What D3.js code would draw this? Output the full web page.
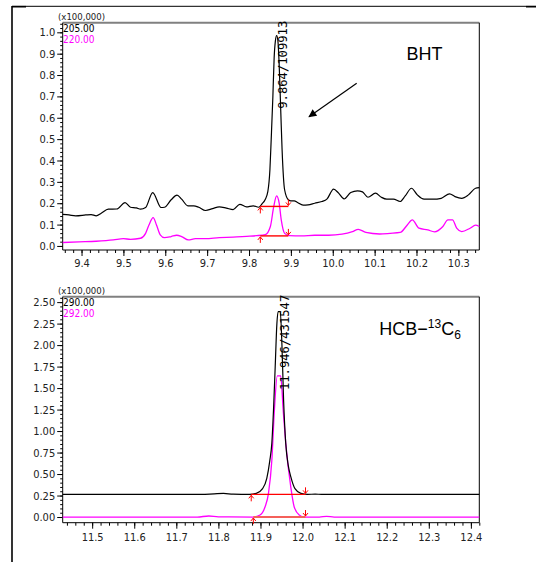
<!DOCTYPE html>
<html>
<head>
<meta charset="utf-8">
<script src="https://cdn.jsdelivr.net/npm/d3@7"></script>
<style>
  body { margin: 0; background: #fff; }
  .tick text { font-family: "Liberation Sans Narrow", "DejaVu Sans Condensed", sans-serif; font-size: 11px; fill: #222; }
  .mono { font-family: "DejaVu Sans Mono", "Liberation Mono", monospace; }
  .narrow { font-family: "Liberation Sans Narrow", "DejaVu Sans Condensed", sans-serif; }
</style>
</head>
<body>
<div class="chart-container"></div>
<script>
var w = 536;
var h = 562;

// BHT window, m/z 205 (black) and 220 (magenta)
var bhtIons = ["205.00", "220.00"];
var bhtXTicks = [9.4, 9.5, 9.6, 9.7, 9.8, 9.9, 10.0, 10.1, 10.2, 10.3];
var bhtYTicks = [0.0, 0.1, 0.2, 0.3, 0.4, 0.5, 0.6, 0.7, 0.8, 0.9, 1.0];
var bht205 = [
  [9.355, 0.148], [9.370, 0.145], [9.386, 0.141], [9.410, 0.145], [9.423, 0.147], [9.435, 0.141],
  [9.447, 0.153], [9.464, 0.172], [9.484, 0.173], [9.504, 0.203], [9.517, 0.181], [9.531, 0.178],
  [9.541, 0.172], [9.553, 0.180], [9.570, 0.250], [9.590, 0.180], [9.598, 0.181], [9.614, 0.216],
  [9.628, 0.238], [9.639, 0.219], [9.654, 0.188], [9.668, 0.188], [9.680, 0.181], [9.696, 0.166],
  [9.713, 0.175], [9.729, 0.183], [9.746, 0.177], [9.762, 0.170], [9.778, 0.195], [9.794, 0.183],
  [9.810, 0.188], [9.823, 0.181], [9.831, 0.197], [9.839, 0.219], [9.845, 0.255], [9.850, 0.360],
  [9.853, 0.500], [9.857, 0.700], [9.860, 0.880], [9.863, 0.960], [9.866, 0.985], [9.869, 0.960],
  [9.872, 0.850], [9.876, 0.620], [9.879, 0.450], [9.885, 0.263], [9.894, 0.216], [9.900, 0.211],
  [9.908, 0.211], [9.916, 0.203], [9.929, 0.191], [9.941, 0.192], [9.957, 0.200], [9.974, 0.208],
  [9.986, 0.219], [10.002, 0.266], [10.014, 0.247], [10.027, 0.220], [10.043, 0.250], [10.059, 0.258],
  [10.071, 0.253], [10.084, 0.228], [10.102, 0.247], [10.116, 0.228], [10.129, 0.219], [10.145, 0.219],
  [10.161, 0.208], [10.173, 0.234], [10.188, 0.270], [10.202, 0.239], [10.218, 0.219], [10.239, 0.219],
  [10.259, 0.223], [10.279, 0.244], [10.292, 0.231], [10.308, 0.223], [10.324, 0.239], [10.341, 0.270],
  [10.350, 0.273]
];
var bht220 = [
  [9.355, 0.016], [9.394, 0.019], [9.435, 0.022], [9.476, 0.028], [9.500, 0.034], [9.517, 0.031],
  [9.541, 0.036], [9.553, 0.059], [9.561, 0.098], [9.571, 0.133], [9.579, 0.098], [9.588, 0.052],
  [9.598, 0.039], [9.614, 0.044], [9.627, 0.050], [9.639, 0.044], [9.655, 0.028], [9.672, 0.034],
  [9.696, 0.034], [9.729, 0.039], [9.762, 0.041], [9.794, 0.045], [9.818, 0.048], [9.839, 0.053],
  [9.851, 0.091], [9.859, 0.184], [9.866, 0.234], [9.872, 0.200], [9.877, 0.122], [9.885, 0.059],
  [9.896, 0.048], [9.925, 0.047], [9.957, 0.050], [9.990, 0.050], [10.022, 0.055], [10.047, 0.067],
  [10.061, 0.078], [10.079, 0.063], [10.112, 0.056], [10.137, 0.059], [10.161, 0.063], [10.178, 0.098],
  [10.190, 0.122], [10.206, 0.083], [10.227, 0.075], [10.243, 0.066], [10.263, 0.091], [10.275, 0.122],
  [10.286, 0.122], [10.296, 0.083], [10.308, 0.067], [10.328, 0.083], [10.341, 0.097], [10.350, 0.091]
];
// integration baselines: start, end, level
var bhtMarks = [[9.827, 9.894, 0.185], [9.827, 9.894, 0.047]];
var bhtPeak = { t: 9.866, label: "9.864/109913" };

// HCB-13C6 window, m/z 290 (black) and 292 (magenta)
var hcbIons = ["290.00", "292.00"];
var hcbXTicks = [11.5, 11.6, 11.7, 11.8, 11.9, 12.0, 12.1, 12.2, 12.3, 12.4];
var hcbYTicks = [0.0, 0.25, 0.5, 0.75, 1.0, 1.25, 1.5, 1.75, 2.0, 2.25, 2.5];
var hcb290 = [
  [11.430, 0.264], [11.760, 0.264], [11.790, 0.270], [11.812, 0.274], [11.835, 0.266], [11.874, 0.264],
  [11.890, 0.275], [11.905, 0.330], [11.915, 0.450], [11.922, 0.650], [11.927, 0.860], [11.931, 1.250],
  [11.935, 1.750], [11.939, 2.250], [11.942, 2.390], [11.947, 2.390], [11.951, 2.000], [11.955, 1.350],
  [11.960, 0.860], [11.966, 0.600], [11.972, 0.470], [11.982, 0.330], [11.996, 0.275], [12.012, 0.264],
  [12.030, 0.266], [12.045, 0.264], [12.420, 0.264]
];
var hcb292 = [
  [11.430, 0.000], [11.750, 0.000], [11.777, 0.012], [11.800, 0.002], [11.883, 0.000], [11.899, 0.023],
  [11.911, 0.120], [11.919, 0.275], [11.927, 0.660], [11.933, 1.240], [11.940, 1.643], [11.948, 1.643],
  [11.954, 1.240], [11.960, 0.860], [11.972, 0.350], [11.980, 0.120], [11.992, 0.023], [12.004, 0.000],
  [12.040, 0.000], [12.057, 0.008], [12.075, 0.000], [12.420, 0.000]
];
var hcbMarks = [[11.878, 12.007, 0.264], [11.883, 12.007, 0.000]];
var hcbPeak = { t: 11.944, label: "11.946/431547" };

var svg = d3.select(".chart-container")
            .append("svg")
            .attr("width", w)
            .attr("height", h);

// page frame
svg.append("line").attr("x1", 12).attr("y1", 6).attr("x2", 12).attr("y2", h)
   .attr("stroke", "#000").attr("stroke-width", 1.6);
svg.append("line").attr("x1", 12).attr("y1", 6.3).attr("x2", w).attr("y2", 6.3)
   .attr("stroke", "#000").attr("stroke-width", 1);
svg.append("line").attr("x1", 12).attr("y1", 6.7).attr("x2", 26).attr("y2", 6.7)
   .attr("stroke", "#000").attr("stroke-width", 1.6);
svg.append("line").attr("x1", 526).attr("y1", 6.7).attr("x2", w).attr("y2", 6.7)
   .attr("stroke", "#000").attr("stroke-width", 1.6);

function drawChart(c) {
  var x = d3.scaleLinear().domain(c.xDomain).range([62.7, 479.3]);
  var y = d3.scaleLinear().domain(c.yDomain).range([c.bottom, c.top]);
  var g = svg.append("g");

  //minor + major x ticks
  var xMinor = d3.range(0, 60).map(function(i) { return c.xMinorStart + i * 0.02; })
                 .filter(function(d) { return d <= c.xDomain[1]; });
  g.append("g").attr("transform", "translate(0," + c.bottom + ")")
   .call(d3.axisBottom(x).tickValues(xMinor).tickSize(3).tickFormat(""))
   .call(function(a) { a.select(".domain").remove(); });
  g.append("g").attr("transform", "translate(0," + c.bottom + ")")
   .call(d3.axisBottom(x).tickValues(c.xTicks).tickSize(6).tickPadding(c.xPad).tickFormat(d3.format(".1f")))
   .call(function(a) { a.select(".domain").remove(); });

  //minor + major y ticks
  var yMinor = d3.range(0, 80).map(function(i) { return i * c.yMinorStep; })
                 .filter(function(d) { return d <= c.yDomain[1]; });
  g.append("g").attr("transform", "translate(62.7,0)")
   .call(d3.axisLeft(y).tickValues(yMinor).tickSize(2.5).tickFormat(""))
   .call(function(a) { a.select(".domain").remove(); });
  g.append("g").attr("transform", "translate(62.7,0)")
   .call(d3.axisLeft(y).tickValues(c.yTicks).tickSize(5.5).tickPadding(2).tickFormat(d3.format(c.yFmt)))
   .call(function(a) { a.select(".domain").remove(); });

  // frame
  g.append("line").attr("x1", 62.7).attr("x2", 479.3).attr("y1", c.top).attr("y2", c.top)
   .attr("stroke", "#808080").attr("stroke-width", 2);
  g.append("line").attr("x1", 479.3).attr("x2", 479.3).attr("y1", c.top).attr("y2", c.bottom)
   .attr("stroke", "#000");
  g.append("line").attr("x1", 62.7).attr("x2", 62.7).attr("y1", c.top).attr("y2", c.bottom)
   .attr("stroke", "#000");
  g.append("line").attr("x1", 62.7).attr("x2", 479.3).attr("y1", c.bottom).attr("y2", c.bottom)
   .attr("stroke", "#000");

  var line = d3.line()
               .x(function(d) { return x(d[0]); })
               .y(function(d) { return y(d[1]); })
               .curve(d3.curveMonotoneX);

  g.append("path").datum(c.magenta).attr("d", line)
   .attr("fill", "none").attr("stroke", "#ff00ff").attr("stroke-width", 1.3);
  g.append("path").datum(c.black).attr("d", line)
   .attr("fill", "none").attr("stroke", "#000").attr("stroke-width", 1.2);

  // integration marks
  c.marks.forEach(function(m, i) {
    var x0 = x(m[0]), x1 = x(m[1]), yy = y(m[2]);
    var col = (c.salmon && i == 1) ? "#f4605a" : "#ff0000";
    g.append("line").attr("x1", x0).attr("x2", x1).attr("y1", yy).attr("y2", yy)
     .attr("stroke", col).attr("stroke-width", (c.salmon && i == 1) ? 2 : 1.4);
    // up arrow at start, down arrow at end
    g.append("path")
     .attr("d", "M" + x0 + "," + (yy + 7) + "V" + (yy + 1) + "M" + (x0 - 2.5) + "," + (yy + 4) + "L" + x0 + "," + (yy + 1) + "L" + (x0 + 2.5) + "," + (yy + 4))
     .attr("fill", "none").attr("stroke", "#ff0000").attr("stroke-width", 1);
    g.append("path")
     .attr("d", "M" + x1 + "," + (yy - 7) + "V" + (yy - 1) + "M" + (x1 - 2.5) + "," + (yy - 4) + "L" + x1 + "," + (yy - 1) + "L" + (x1 + 2.5) + "," + (yy - 4))
     .attr("fill", "none").attr("stroke", "#ff0000").attr("stroke-width", 1);
  });

  // peak label, rotated
  g.append("text").attr("class", "mono")
   .attr("transform", "translate(" + (x(c.peak.t) + 6) + "," + (c.top - 2) + ") rotate(-90)")
   .attr("text-anchor", "end").attr("dominant-baseline", "central")
   .attr("font-size", "12.2px").attr("fill", "#000")
   .text(c.peak.label);

  // scale factor + ion labels
  g.append("text").attr("class", "narrow").attr("x", 58).attr("y", c.top - 3)
   .attr("font-size", "9.5px").attr("fill", "#222").text("(x100,000)");
  g.append("text").attr("class", "narrow").attr("x", 63).attr("y", c.top + 9)
   .attr("font-size", "10px").attr("fill", "#000").text(c.ions[0]);
  g.append("text").attr("class", "narrow").attr("x", 63).attr("y", c.top + 20.5)
   .attr("font-size", "10px").attr("fill", "#ff00ff").text(c.ions[1]);
  return g;
}

var g1 = drawChart({
  xDomain: [9.355, 10.35], yDomain: [-0.019, 1.045], top: 22.7, bottom: 250,
  xTicks: bhtXTicks, xMinorStart: 9.36, xPad: 3, yTicks: bhtYTicks, yMinorStep: 0.02, yFmt: ".1f",
  black: bht205, magenta: bht220, marks: bhtMarks, peak: bhtPeak, ions: bhtIons
});
var g2 = drawChart({
  xDomain: [11.43, 12.42], yDomain: [-0.066, 2.563], top: 296.7, bottom: 522.7,
  xTicks: hcbXTicks, xMinorStart: 11.44, xPad: 5, yTicks: hcbYTicks, yMinorStep: 0.05, yFmt: ".2f",
  black: hcb290, magenta: hcb292, marks: hcbMarks, peak: hcbPeak, ions: hcbIons, salmon: true
});

// compound names
g1.append("text").attr("x", 406.5).attr("y", 60).attr("font-family", "Liberation Sans, Arial, sans-serif")
  .attr("font-size", "18px").attr("fill", "#000").text("BHT");
var hcb = g2.append("text").attr("x", 379.3).attr("y", 335).attr("font-family", "Liberation Sans, Arial, sans-serif")
  .attr("font-size", "18px").attr("fill", "#000");
hcb.append("tspan").text("HCB\u2212");
hcb.append("tspan").attr("font-size", "12px").attr("dy", -7).text("13");
hcb.append("tspan").attr("dy", 7).text("C");
hcb.append("tspan").attr("font-size", "12px").attr("dy", 4).text("6");

// arrow pointing at the peak
svg.append("defs").append("marker").attr("id", "head")
   .attr("viewBox", "0 0 10 10").attr("refX", 9).attr("refY", 5)
   .attr("markerWidth", 10).attr("markerHeight", 8).attr("markerUnits", "userSpaceOnUse")
   .attr("orient", "auto")
   .append("path").attr("d", "M0,0L10,5L0,10Z").attr("fill", "#000");
svg.append("line").attr("x1", 356.7).attr("y1", 83.3).attr("x2", 309).attr("y2", 116.7)
   .attr("stroke", "#000").attr("stroke-width", 1.2).attr("marker-end", "url(#head)");
</script>
</body>
</html>
